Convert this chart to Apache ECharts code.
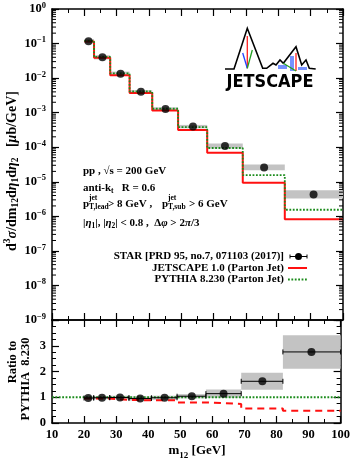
<!DOCTYPE html>
<html><head><meta charset="utf-8">
<script src="https://cdn.jsdelivr.net/npm/echarts@6/dist/echarts.min.js"></script>
<style>html,body{margin:0;padding:0;background:#fff}#c{width:353px;height:459px}</style>
</head><body><div id="c"></div>
<script>
// ---- data ----
const binEdges = [20, 23, 28, 34, 41, 49, 58, 69, 82, 100];
const starX = [21.3, 25.6, 31.2, 37.5, 45.1, 53.6, 63.5, 75.6, 90.9];
const starY = [0.117, 0.040, 0.0134, 0.0040, 0.00127, 3.95e-4, 1.08e-4, 2.6e-5, 4.3e-6];
const starSysFactor = [1.15, 1.15, 1.15, 1.12, 1.12, 1.12, 1.18, 1.21, 1.32];
const pythiaY = [0.12, 0.041, 0.0137, 0.0041, 0.0013, 3.8e-4, 9.5e-5, 1.55e-5, 1.55e-6];
const jetscapeY = [0.115, 0.039, 0.0122, 0.0037, 0.00115, 3.15e-4, 6.9e-5, 9.3e-6, 8.2e-7];
const ratioStar = [0.97, 0.98, 0.99, 0.95, 0.98, 1.04, 1.14, 1.62, 2.76];
const ratioStarSys = [0.06, 0.06, 0.07, 0.08, 0.08, 0.08, 0.16, 0.33, 0.65];
const ratioJetscape = [0.95, 0.95, 0.90, 0.88, 0.88, 0.80, 0.74, 0.56, 0.48];
const ratioPythiaLine = [[10, 1], [100, 1]];
const xRange = [10, 100];
const yRangeTop = [1e-9, 1];
const yRangeRatio = [0, 4];

// ---- helpers ----
const SERIF = '"Liberation Serif","DejaVu Serif",serif';
const nb = binEdges.length - 1;
function stepData(vals) {
  const d = [];
  for (let i = 0; i < nb; i++) d.push([binEdges[i], vals[i]]);
  d.push([binEdges[nb], vals[nb - 1]]);
  return d;
}
const topBoxes = starY.map((v, i) => [binEdges[i], binEdges[i + 1], v / starSysFactor[i], v * starSysFactor[i]]);
const ratioBoxes = ratioStar.map((v, i) => [binEdges[i], binEdges[i + 1], v - ratioStarSys[i], v + ratioStarSys[i]]);
const ratioXErr = ratioStar.map((v, i) => [binEdges[i], binEdges[i + 1], v]);
const minorLogTicks = [];
for (let e = -9; e < 0; e++) for (let m = 2; m <= 9; m++) minorLogTicks.push([m * Math.pow(10, e)]);

function boxRender(params, api) {
  const p0 = api.coord([api.value(0), api.value(3)]);
  const p1 = api.coord([api.value(1), api.value(2)]);
  return { type: 'rect', shape: { x: p0[0], y: p0[1], width: p1[0] - p0[0], height: p1[1] - p0[1] },
    style: { fill: '#c3c3c3' } };
}

function xAx(grid, pos, showLabel) {
  return {
    type: 'value', gridIndex: grid, position: pos, min: xRange[0], max: xRange[1], interval: 10,
    axisLine: { show: true, onZero: false, lineStyle: { color: '#000', width: 1.5 } },
    axisTick: { show: true, inside: true, length: 7, lineStyle: { color: '#000', width: 1.2 } },
    minorTick: { show: true, splitNumber: 2, length: 4, lineStyle: { color: '#000', width: 1 } },
    splitLine: { show: false }, minorSplitLine: { show: false },
    axisLabel: { show: showLabel, margin: 5, fontFamily: SERIF, fontWeight: 'bold', fontSize: 12.5, color: '#000' }
  };
}
function yLog(pos, showLabel) {
  return {
    type: 'log', logBase: 10, gridIndex: 0, position: pos, min: yRangeTop[0], max: yRangeTop[1], interval: 1, splitNumber: 9,
    axisLine: { show: true, lineStyle: { color: '#000', width: 1.5 } },
    axisTick: { show: true, inside: true, length: 7, lineStyle: { color: '#000', width: 1.2 } },
    minorTick: { show: false }, splitLine: { show: false }, minorSplitLine: { show: false },
    axisLabel: {
      show: showLabel, margin: 6, color: '#000',
      formatter: function (v) {
        const e = Math.round(Math.log10(v));
        return '{b|10}{s|' + (e === 0 ? '0' : '\u2212' + (-e)) + '}';
      },
      rich: {
        b: { fontFamily: SERIF, fontWeight: 'bold', fontSize: 12.5, lineHeight: 16, color: '#000' },
        s: { fontFamily: SERIF, fontWeight: 'bold', fontSize: 8.5, lineHeight: 9, verticalAlign: 'top', color: '#000' }
      }
    }
  };
}
function yRatio(pos, showLabel) {
  return {
    type: 'value', gridIndex: 1, position: pos, min: yRangeRatio[0], max: yRangeRatio[1], interval: 1,
    axisLine: { show: true, onZero: false, lineStyle: { color: '#000', width: 1.5 } },
    axisTick: { show: true, inside: true, length: 7, lineStyle: { color: '#000', width: 1.2 } },
    minorTick: { show: true, splitNumber: 4, length: 4, lineStyle: { color: '#000', width: 1 } },
    splitLine: { show: false }, minorSplitLine: { show: false },
    axisLabel: { show: showLabel, margin: 6, fontFamily: SERIF, fontWeight: 'bold', fontSize: 12.5, color: '#000',
      formatter: v => (v >= 4 ? '' : String(v)) }
  };
}

const RED = '#ff1010';
const GREEN = '#1c8c1c';
const txt = (x, y, text, o) => Object.assign({ type: 'text', x: x, y: y, silent: true,
  style: Object.assign({ text: text, fontFamily: SERIF, fontWeight: 'bold', fontSize: 11, fill: '#000',
    align: 'left', verticalAlign: 'middle' }, (o && o.style) || {}) }, (o && o.el) || {});

const richBase = {
  n: { fontFamily: SERIF, fontWeight: 'bold', fontSize: 13, lineHeight: 18, fill: '#000' },
  i: { fontFamily: SERIF, fontWeight: 'bold', fontStyle: 'italic', fontSize: 13, lineHeight: 18, fill: '#000' },
  sup: { fontFamily: SERIF, fontWeight: 'bold', fontSize: 9, lineHeight: 10, verticalAlign: 'top', fill: '#000' },
  sub: { fontFamily: SERIF, fontWeight: 'bold', fontSize: 9, lineHeight: 10, verticalAlign: 'bottom', fill: '#000' }
};
const richTitle = {
  n: Object.assign({}, richBase.n, { fontSize: 14 }),
  i: Object.assign({}, richBase.i, { fontSize: 14 }),
  sup: Object.assign({}, richBase.sup, { fontSize: 9.5 }),
  sub: Object.assign({}, richBase.sub, { fontSize: 9.5 })
};

const graphics = [
  // y-axis title (top panel)
  { type: 'text', x: 12, y: 171, rotation: Math.PI / 2, silent: true,
    style: { text: '{n|d}{sup|3}{i|\u03c3}{n|/dm}{sub|12}{n|d}{i|\u03b7}{sub|1}{n|d}{i|\u03b7}{sub|2}{n|   [}{i|\u03bc}{n|b/GeV]}',
      rich: richTitle, align: 'center', verticalAlign: 'middle' } },
  // ratio title
  txt(13, 362, 'Ratio to', { el: { rotation: Math.PI / 2 }, style: { fontSize: 12.5, align: 'center' } }),
  txt(26, 379, 'PYTHIA  8.230', { el: { rotation: Math.PI / 2 }, style: { fontSize: 12.5, align: 'center' } }),
  // x title
  { type: 'text', x: 197, y: 451, silent: true,
    style: { text: '{n|m}{sub|12}{n| [GeV]}', rich: richBase, align: 'center', verticalAlign: 'middle' } },
  // annotations
  txt(83, 171, 'pp , \u221As = 200 GeV'),
  { type: 'text', x: 83, y: 188, silent: true,
    style: { text: '{n|anti-k}{sub|t}{n|   R = 0.6}', align: 'left', verticalAlign: 'middle',
      rich: { n: Object.assign({}, richBase.n, { fontSize: 11, lineHeight: 15 }),
              sub: Object.assign({}, richBase.sub, { fontSize: 7.5, lineHeight: 8 }) } } },
  txt(83, 204, 'p'),
  txt(89, 198.5, 'jet', { style: { fontSize: 7.5 } }),
  txt(89, 207.5, 'T,lead', { style: { fontSize: 7.5 } }),
  txt(108, 204, '> 8 GeV ,'),
  txt(162, 204, 'p'),
  txt(168, 198.5, 'jet', { style: { fontSize: 7.5 } }),
  txt(168, 207.5, 'T,sub', { style: { fontSize: 7.5 } }),
  txt(189, 204, '> 6 GeV'),
  { type: 'text', x: 83, y: 223, silent: true,
    style: { text: '{n||}{i|\u03b7}{sub|1}{n||, |}{i|\u03b7}{sub|2}{n|| < 0.8 ,  \u0394}{i|\u03c6}{n| > 2}{i|\u03c0}{n|/3}', align: 'left', verticalAlign: 'middle',
      rich: { n: Object.assign({}, richBase.n, { fontSize: 11, lineHeight: 15 }),
              i: Object.assign({}, richBase.i, { fontSize: 11, lineHeight: 15 }),
              sub: Object.assign({}, richBase.sub, { fontSize: 7.5, lineHeight: 8 }) } } },
  // legend
  txt(284, 256.5, 'STAR [PRD 95, no.7, 071103 (2017)]', { style: { align: 'right' } }),
  txt(284, 268, 'JETSCAPE 1.0 (Parton Jet)', { style: { align: 'right' } }),
  txt(284, 279.5, 'PYTHIA 8.230 (Parton Jet)', { style: { align: 'right' } }),
  { type: 'line', silent: true, shape: { x1: 290, y1: 256.5, x2: 307, y2: 256.5 }, style: { stroke: '#000', lineWidth: 1 } },
  { type: 'line', silent: true, shape: { x1: 290, y1: 254.5, x2: 290, y2: 258.5 }, style: { stroke: '#000', lineWidth: 1 } },
  { type: 'line', silent: true, shape: { x1: 307, y1: 254.5, x2: 307, y2: 258.5 }, style: { stroke: '#000', lineWidth: 1 } },
  { type: 'circle', silent: true, shape: { cx: 298.5, cy: 256.5, r: 3.5 }, style: { fill: '#000' } },
  { type: 'line', silent: true, shape: { x1: 288, y1: 268, x2: 307, y2: 268 }, style: { stroke: RED, lineWidth: 2 } },
  { type: 'line', silent: true, shape: { x1: 288, y1: 279.5, x2: 307, y2: 279.5 }, style: { stroke: GREEN, lineWidth: 1.8, lineDash: [1.8, 1.6] } },
  // JETSCAPE logo
  { type: 'polyline', silent: true, shape: { points: [[225, 69], [234, 69], [247.3, 28.3], [262.7, 68.3], [266.7, 68.3], [273, 63.3], [276, 65], [280, 60], [283.3, 63.3], [296, 46.7], [301.7, 65], [306, 60], [309.3, 68.3], [315.7, 69]] },
    style: { stroke: '#000', lineWidth: 1.6, fill: null } },
  { type: 'rect', silent: true, shape: { x: 278, y: 65, width: 9, height: 4 }, style: { fill: '#5577ff', opacity: 0.8 } },
  { type: 'rect', silent: true, shape: { x: 290, y: 56, width: 4, height: 15 }, style: { fill: '#5577ff', opacity: 0.8 } },
  { type: 'rect', silent: true, shape: { x: 298, y: 67, width: 9, height: 3 }, style: { fill: '#5577ff', opacity: 0.8 } },
  { type: 'line', silent: true, shape: { x1: 247.3, y1: 36, x2: 247.3, y2: 68.3 }, style: { stroke: '#ff2020', lineWidth: 1.3 } },
  { type: 'line', silent: true, shape: { x1: 242.7, y1: 53, x2: 247.3, y2: 68.3 }, style: { stroke: '#2040ff', lineWidth: 1.3 } },
  { type: 'line', silent: true, shape: { x1: 252.3, y1: 50, x2: 247.3, y2: 68.3 }, style: { stroke: '#20a020', lineWidth: 1.3 } },
  { type: 'line', silent: true, shape: { x1: 296, y1: 53, x2: 296, y2: 71 }, style: { stroke: '#ff2020', lineWidth: 1.3 } },
  { type: 'line', silent: true, shape: { x1: 283.3, y1: 63.3, x2: 296, y2: 71 }, style: { stroke: '#20a020', lineWidth: 1.3 } },
  { type: 'text', x: 270, y: 83, silent: true, scaleX: 0.95,
    style: { text: 'JETSCAPE', fontFamily: '"DejaVu Sans"', fontWeight: 'bold', fontSize: 17, fill: '#000', align: 'center', verticalAlign: 'middle' } }
];

const option = {
  animation: false,
  backgroundColor: '#fff',
  grid: [
    { left: 52, right: 10, top: 9, height: 311, containLabel: false },
    { left: 52, right: 10, top: 320, height: 103, containLabel: false }
  ],
  xAxis: [xAx(0, 'bottom', false), xAx(0, 'top', false), xAx(1, 'bottom', true), xAx(1, 'top', false)],
  yAxis: [yLog('left', true), yLog('right', false), yRatio('left', true), yRatio('right', false)],
  graphic: graphics,
  series: [
    { type: 'custom', xAxisIndex: 0, yAxisIndex: 0, data: topBoxes, renderItem: boxRender, silent: true, z: 1 },
    { type: 'line', xAxisIndex: 0, yAxisIndex: 0, data: stepData(jetscapeY), step: 'end', symbol: 'none',
      lineStyle: { color: RED, width: 2 }, silent: true, z: 2 },
    { type: 'line', xAxisIndex: 0, yAxisIndex: 0, data: stepData(pythiaY), step: 'end', symbol: 'none',
      lineStyle: { color: GREEN, width: 1.8, type: [1.8, 1.6] }, silent: true, z: 3 },
    { type: 'scatter', xAxisIndex: 0, yAxisIndex: 0, data: starX.map((x, i) => [x, starY[i]]), symbol: 'circle', symbolSize: 8,
      itemStyle: { color: '#000' }, silent: true, z: 5 },
    { type: 'custom', xAxisIndex: 0, yAxisIndex: 0, data: minorLogTicks, silent: true, z: 6,
      renderItem: function (params, api) {
        const cs = params.coordSys;
        const y = api.coord([xRange[0], api.value(0)])[1];
        return { type: 'group', children: [
          { type: 'line', shape: { x1: cs.x, y1: y, x2: cs.x + 4, y2: y }, style: { stroke: '#000', lineWidth: 1 } },
          { type: 'line', shape: { x1: cs.x + cs.width, y1: y, x2: cs.x + cs.width - 4, y2: y }, style: { stroke: '#000', lineWidth: 1 } }
        ] };
      } },
    // ratio panel
    { type: 'custom', xAxisIndex: 2, yAxisIndex: 2, data: ratioBoxes, renderItem: boxRender, silent: true, z: 1 },
    { type: 'line', xAxisIndex: 2, yAxisIndex: 2, data: ratioPythiaLine, symbol: 'none',
      lineStyle: { color: GREEN, width: 1.8, type: [1.8, 1.6] }, silent: true, z: 2 },
    { type: 'line', xAxisIndex: 2, yAxisIndex: 2, data: stepData(ratioJetscape), step: 'end', symbol: 'none',
      lineStyle: { color: RED, width: 2, type: [7, 5] }, silent: true, z: 3 },
    { type: 'custom', xAxisIndex: 2, yAxisIndex: 2, data: ratioXErr, silent: true, z: 4,
      renderItem: function (params, api) {
        const a = api.coord([api.value(0), api.value(2)]);
        const b = api.coord([api.value(1), api.value(2)]);
        const st = { stroke: '#000', lineWidth: 1 };
        return { type: 'group', children: [
          { type: 'line', shape: { x1: a[0], y1: a[1], x2: b[0], y2: b[1] }, style: st },
          { type: 'line', shape: { x1: a[0], y1: a[1] - 2.5, x2: a[0], y2: a[1] + 2.5 }, style: st },
          { type: 'line', shape: { x1: b[0], y1: b[1] - 2.5, x2: b[0], y2: b[1] + 2.5 }, style: st }
        ] };
      } },
    { type: 'scatter', xAxisIndex: 2, yAxisIndex: 2, data: starX.map((x, i) => [x, ratioStar[i]]), symbol: 'circle', symbolSize: 8,
      itemStyle: { color: '#000' }, silent: true, z: 5 }
  ]
};
const chart = echarts.init(document.getElementById('c'));
chart.setOption(option);
</script>
</body></html>
